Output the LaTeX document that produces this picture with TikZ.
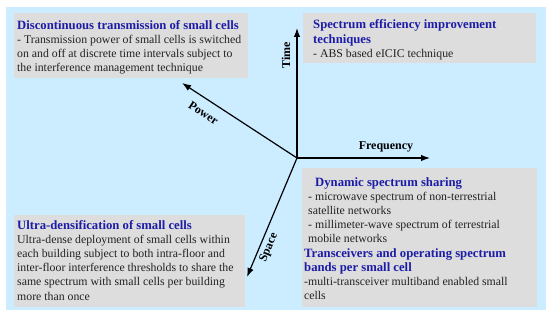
\documentclass[tikz,border=0pt]{standalone}
\usepackage{fontspec}
\setmainfont{Liberation Serif}
\usetikzlibrary{arrows.meta}
\definecolor{bgblue}{RGB}{204,236,255}
\definecolor{boxgray}{RGB}{221,221,221}
\definecolor{titleblue}{RGB}{28,28,168}
\definecolor{bodytext}{RGB}{34,34,34}
\newcommand{\ttl}[1]{{\fontsize{12.7}{14.2}\selectfont\bfseries\color{titleblue}#1}}
\newcommand{\st}{\rule{0pt}{10pt}}
\tikzset{
  graybox/.style={fill=boxgray, draw=none},
  boxtext/.style={anchor=north west, inner sep=0pt, align=left, text=bodytext,
    font=\fontsize{11.8}{14.2}\selectfont},
  axis/.style={line width=1.2pt, -{Latex[length=9pt,width=6.5pt]}},
  axislabel/.style={font=\fontsize{12}{14}\selectfont\bfseries, inner sep=0pt, text=black}
}
\begin{document}
\begin{tikzpicture}[x=1pt,y=-1pt]
\useasboundingbox (0,0) rectangle (550,315);
\fill[bgblue] (6,7) rectangle (546,310);
% boxes
\fill[graybox] (14,13) rectangle (248,78);
\fill[graybox] (303,13) rectangle (536,63);
\fill[graybox] (302,168) rectangle (537,307);
\fill[graybox] (14,215) rectangle (245,307);
% texts
\node[boxtext] (t1) at (17,19) {\st\ttl{Discontinuous transmission of small cells}\\
- Transmission power of small cells is switched\\
on and off at discrete time intervals subject to\\
the interference management technique};
\node[boxtext] (t2) at (313,18) {\st\ttl{Spectrum efficiency improvement}\\[1pt]
\ttl{techniques}\\
- ABS based eICIC technique};
\node[boxtext] (t3) at (304,176) {\st\hspace*{11pt}\ttl{Dynamic spectrum sharing}\\
\hspace*{4pt}- microwave spectrum of non-terrestrial\\
\hspace*{4pt}satellite networks\\
\hspace*{4pt}- millimeter-wave spectrum of terrestrial\\
\hspace*{4pt}mobile networks\\
\ttl{Transceivers and operating spectrum}\\
\ttl{bands per small cell}\\
-multi-transceiver multiband enabled small\\
cells};
\node[boxtext] (t4) at (17,219) {\st\ttl{Ultra-densification of small cells}\\
Ultra-dense deployment of small cells within\\
each building subject to both intra-floor and\\
inter-floor interference thresholds to share the\\
same spectrum with small cells per building\\
more than once};
% axes
\coordinate (O) at (297,158);
\coordinate (T) at (297,28);
\coordinate (F) at (430,158);
\coordinate (P) at (182,83);
\coordinate (S) at (247,277);
\draw[axis] (O) -- (T);
\draw[axis] (O) -- (F);
\draw[axis] (O) -- (P);
\draw[axis] (O) -- (S);
\node[axislabel, rotate=90] (lt) at (286,55.5) {Time};
\node[axislabel] (lf) at (386,147) {Frequency};
\node[axislabel, rotate=-33] (lp) at (203.5,113) {Power};
\node[axislabel, rotate=67] (ls) at (269,247.5) {Space};
\end{tikzpicture}
\end{document}
